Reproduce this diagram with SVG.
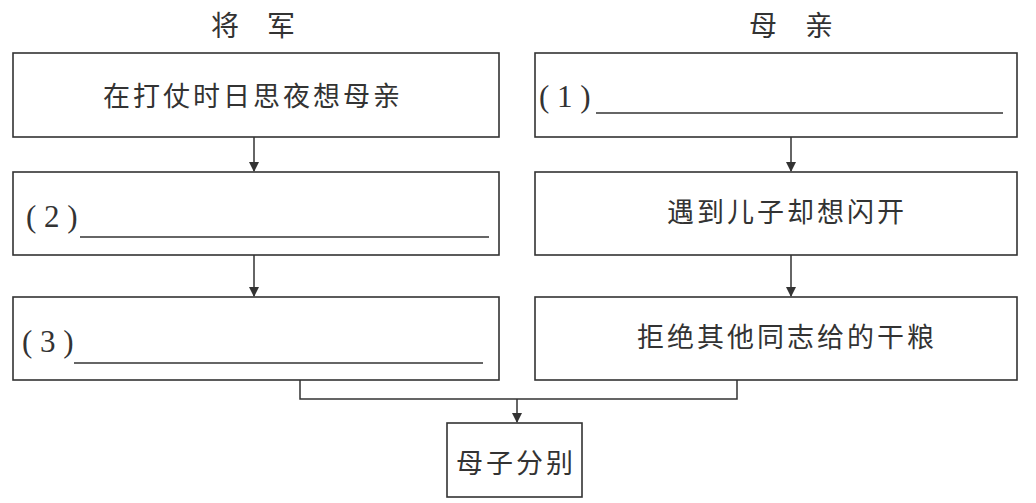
<svg xmlns="http://www.w3.org/2000/svg" width="1036" height="503" viewBox="0 0 1036 503">
<defs>
<marker id="ah" markerUnits="userSpaceOnUse" markerWidth="10" markerHeight="12" refX="9" refY="5" orient="auto">
<path d="M0,0 L10,5 L0,10 Z" fill="#333"/>
</marker>
<style>
.box{fill:#fff;stroke:#333;stroke-width:1.6}
.t{font-family:"Noto Sans CJK SC","Noto Sans CJK JP",sans-serif;font-size:27px;fill:#333;letter-spacing:3px}
.h{font-family:"Noto Sans CJK SC",sans-serif;font-size:28px;fill:#333}
.p{font-family:"Liberation Serif",serif;font-size:31px;fill:#333}
.blank{stroke:#333;stroke-width:1.5}
.c{fill:none;stroke:#333;stroke-width:1.5}
</style>
</defs>
<rect width="1036" height="503" fill="#fff"/>
<g id="titles">
<text class="h" x="253" y="36" text-anchor="middle">将　军</text>
<text class="h" x="791" y="36" text-anchor="middle">母　亲</text>
</g>
<g id="connectors">
<line class="c" x1="254" y1="137" x2="254" y2="171" marker-end="url(#ah)"/>
<line class="c" x1="254" y1="255" x2="254" y2="296" marker-end="url(#ah)"/>
<line class="c" x1="791" y1="137" x2="791" y2="171" marker-end="url(#ah)"/>
<line class="c" x1="791" y1="255" x2="791" y2="296" marker-end="url(#ah)"/>
<polyline class="c" points="300,380 300,399 737,399 737,380"/>
<line class="c" x1="517" y1="399" x2="517" y2="422" marker-end="url(#ah)"/>
</g>
<g id="g1">
<rect class="box" x="13" y="53" width="486" height="84"/>
<text class="t" x="253" y="106" text-anchor="middle">在打仗时日思夜想母亲</text>
</g>
<g id="g2">
<rect class="box" x="13" y="172" width="486" height="83"/>
<text class="p" x="26" y="227" xml:space="preserve">( 2 )</text>
<line class="blank" x1="80" y1="237" x2="489" y2="237"/>
</g>
<g id="g3">
<rect class="box" x="13" y="297" width="486" height="83"/>
<text class="p" x="22" y="352" xml:space="preserve">( 3 )</text>
<line class="blank" x1="74" y1="363" x2="483" y2="363"/>
</g>
<g id="m1">
<rect class="box" x="535" y="53" width="482" height="84"/>
<text class="p" x="539" y="107" xml:space="preserve">( 1 )</text>
<line class="blank" x1="596" y1="113" x2="1003" y2="113"/>
</g>
<g id="m2">
<rect class="box" x="535" y="172" width="482" height="83"/>
<text class="t" x="787" y="222" text-anchor="middle">遇到儿子却想闪开</text>
</g>
<g id="m3">
<rect class="box" x="535" y="297" width="482" height="83"/>
<text class="t" x="787" y="347" text-anchor="middle">拒绝其他同志给的干粮</text>
</g>
<g id="end">
<rect class="box" x="447" y="423" width="135" height="74"/>
<text class="t" x="516" y="473" text-anchor="middle">母子分别</text>
</g>
</svg>
